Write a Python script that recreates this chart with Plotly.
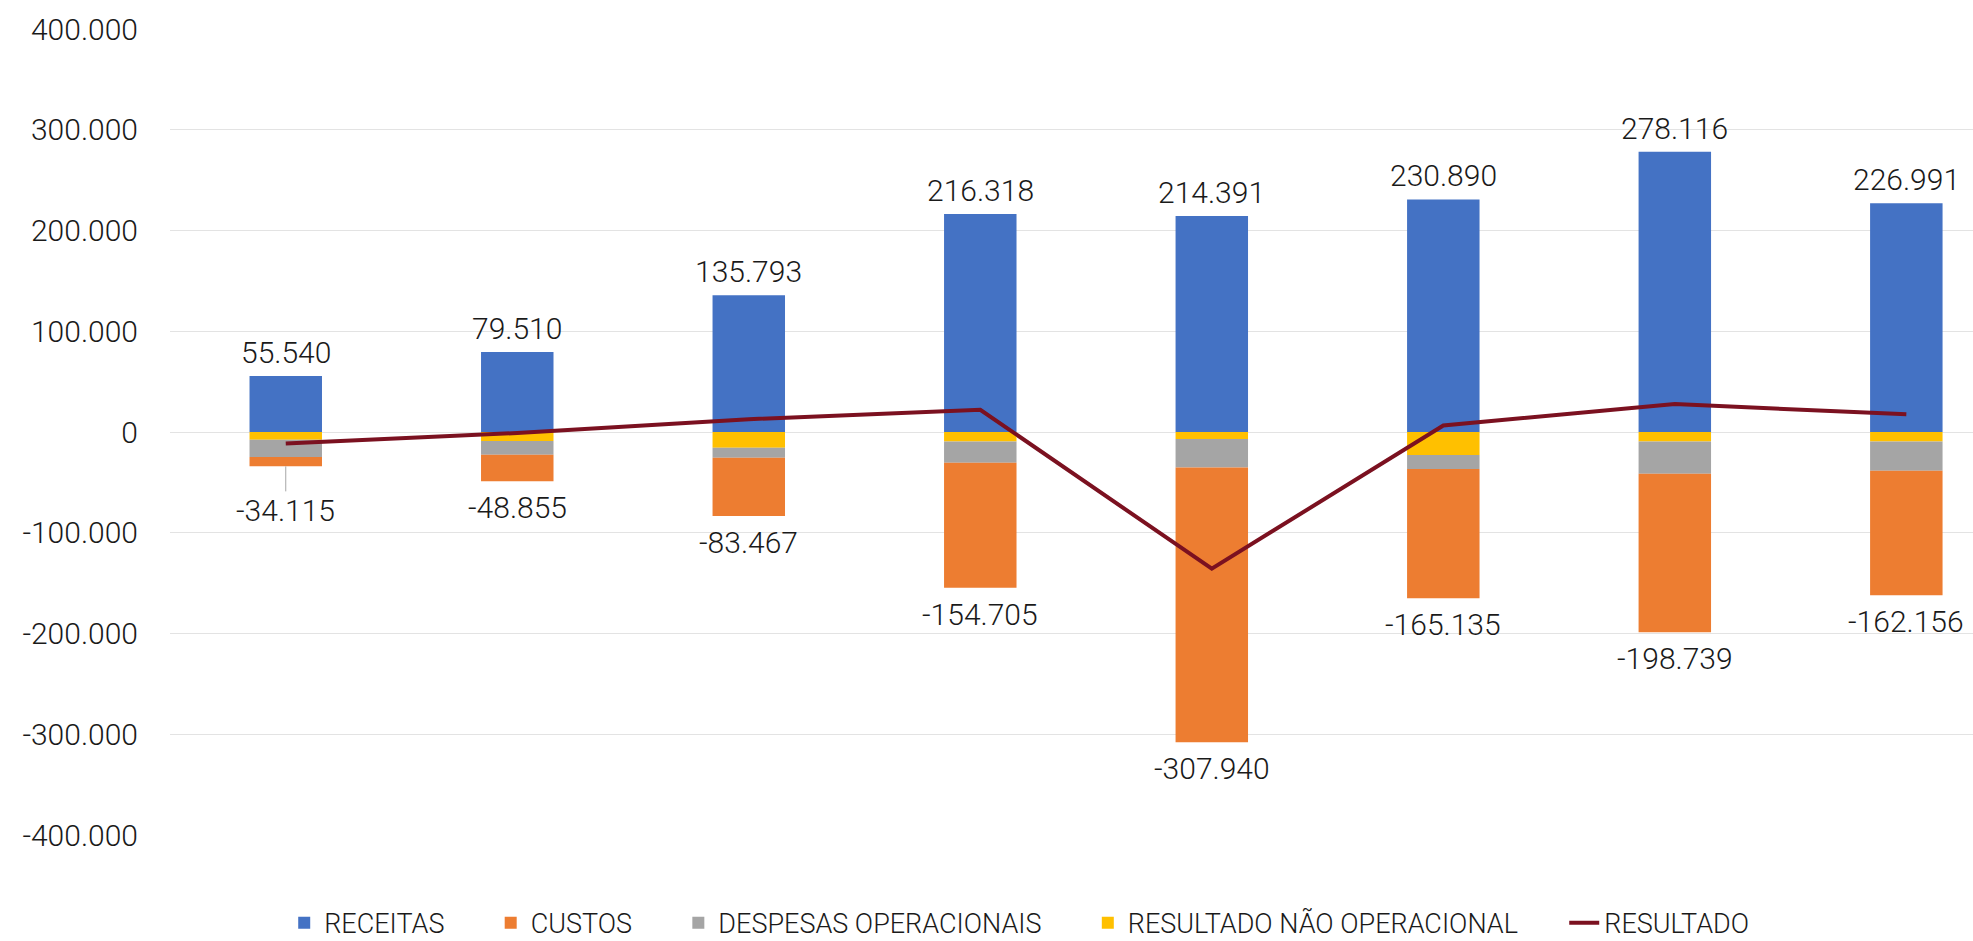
import plotly.graph_objects as go

# ---- data ----
periodos = [0, 1, 2, 3, 4, 5, 6, 7]
receitas = [55540, 79510, 135793, 216318, 214391, 230890, 278116, 226991]
custos = [-9315, -26355, -57967, -124305, -272640, -128335, -157339, -123756]
despesas = [-17000, -13600, -9900, -21000, -28300, -14000, -31900, -28900]
nao_operacional = [-7800, -8900, -15600, -9400, -7000, -22800, -9500, -9500]
resultado = [-11300, -1000, 12700, 22100, -135700, 6500, 27700, 17500]
y_ticks = [-400000, -300000, -200000, -100000, 0, 100000, 200000, 300000, 400000]


def fmt(v):
    s = f"{abs(v):,}".replace(",", ".")
    return ("-" + s) if v < 0 else s


FONT = "Roboto"
TXT = "#1a1a1a"
BARW = 0.313
LBL = dict(family=FONT, size=30, color=TXT, weight=300)
PAD = "\u2002\u2002\u2002"  # extra spacing between legend entries

fig = go.Figure()
# stacking order: positives up, negatives down (yellow closest to zero)
fig.add_trace(go.Bar(x=periodos, y=receitas, name="RECEITAS" + PAD, marker_color="#4472C4",
                     width=BARW, legendrank=1, marker_line_width=0))
fig.add_trace(go.Bar(x=periodos, y=nao_operacional, name="RESULTADO NÃO OPERACIONAL" + PAD,
                     marker_color="#FFC000", width=BARW, legendrank=4, marker_line_width=0))
fig.add_trace(go.Bar(x=periodos, y=despesas, name="DESPESAS OPERACIONAIS" + PAD,
                     marker_color="#A5A5A5", width=BARW, legendrank=3, marker_line_width=0))
fig.add_trace(go.Bar(x=periodos, y=custos, name="CUSTOS" + PAD, marker_color="#ED7D31",
                     width=BARW, legendrank=2, marker_line_width=0))
fig.add_trace(go.Scatter(x=periodos, y=resultado, name="RESULTADO", mode="lines",
                         line=dict(color="#7B1120", width=4), legendrank=5))

neg_total = [c + d + n for c, d, n in zip(custos, despesas, nao_operacional)]

annotations = []
for i, v in enumerate(receitas):
    annotations.append(dict(x=periodos[i], y=v, text=fmt(v), showarrow=False,
                            yanchor="bottom", yshift=4, font=LBL))
for i, v in enumerate(neg_total):
    if i == 0:
        annotations.append(dict(x=periodos[i], y=v, text=fmt(v), showarrow=True,
                                arrowhead=0, arrowwidth=1, arrowcolor="#a6a6a6",
                                ax=0, ay=44, standoff=0, font=LBL))
    else:
        annotations.append(dict(x=periodos[i], y=v, text=fmt(v), showarrow=False,
                                yanchor="top", yshift=-7, font=LBL))

fig.update_layout(
    barmode="relative",
    width=1973, height=941,
    margin=dict(l=170, r=0, t=29, b=106, autoexpand=False),
    plot_bgcolor="white", paper_bgcolor="white",
    font=dict(family=FONT, color=TXT, weight=300),
    showlegend=True,
    legend=dict(orientation="h", x=0.471, xanchor="center",
                yref="container", y=0.019, yanchor="middle",
                font=dict(family=FONT, size=27, color=TXT, weight=300),
                itemwidth=30, tracegroupgap=0, traceorder="normal"),
    annotations=annotations,
    xaxis=dict(range=[-0.5, 7.288], showticklabels=False, showgrid=False,
               zeroline=False, showline=False, ticks=""),
    yaxis=dict(range=[-400000, 400000], tickvals=y_ticks,
               ticktext=[fmt(v) for v in y_ticks],
               showgrid=True, gridcolor="#e3e3e3", gridwidth=1,
               zeroline=True, zerolinecolor="#e3e3e3", zerolinewidth=1,
               showline=False, ticks="", ticklabelstandoff=31,
               tickfont=LBL),
)

fig.write_html(
    "out.html",
    config={"displayModeBar": False},
    post_script="document.body.style.margin='0';document.body.style.overflow='hidden';",
)
